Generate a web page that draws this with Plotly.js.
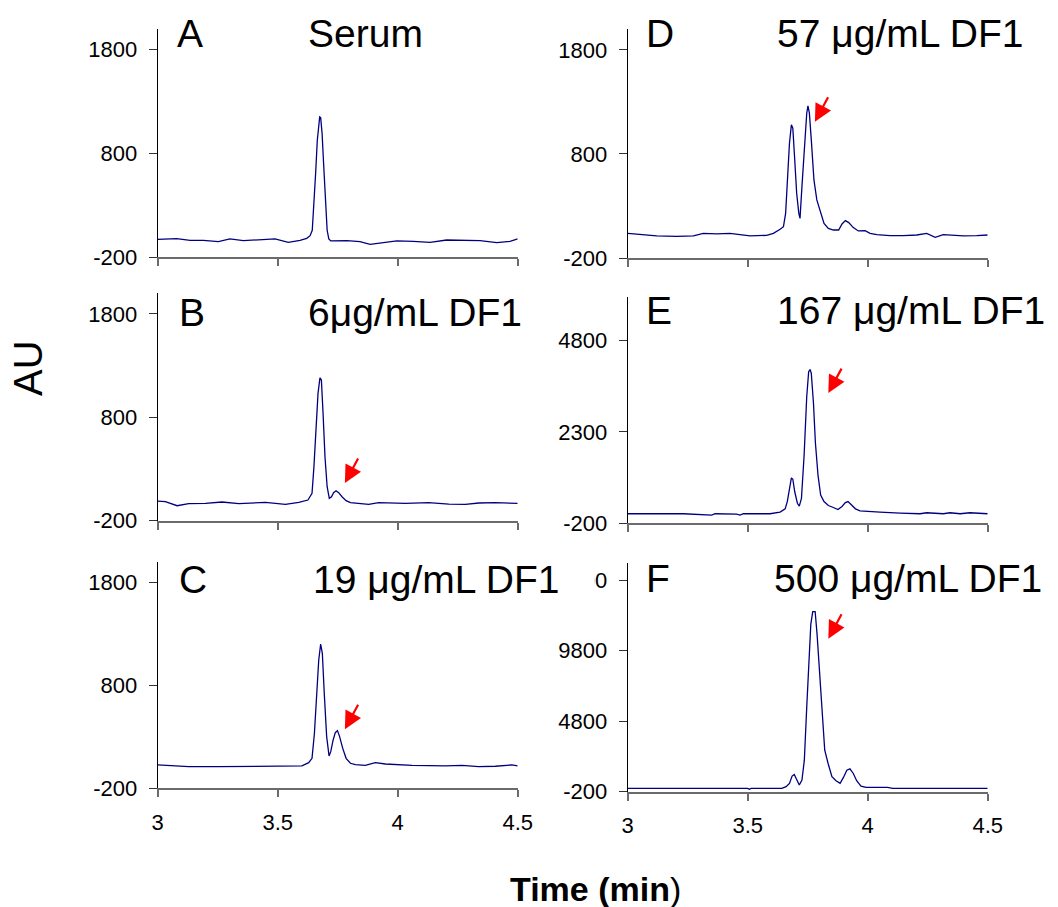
<!DOCTYPE html>
<html>
<head>
<meta charset="utf-8">
<script src="https://cdn.plot.ly/plotly-3.0.1.min.js"></script>
<style>
html,body{margin:0;padding:0;background:#fff;}
#chart{width:1058px;height:907px;}
</style>
</head>
<body>
<div id="chart"></div>
<script>
// ---------- DATA ----------
const xTickVals = [3, 3.5, 4, 4.5];
const xTickLabels = ['3', '3.5', '4', '4.5'];

const yTicksLow = [-200, 800, 1800];
const yTicksE = [-200, 2300, 4800];
const yTicksF = [-200, 4800, 9800, 14800];

const panelLetters = ['A', 'B', 'C', 'D', 'E', 'F'];
const panelTitles = ['Serum', '6μg/mL DF1', '19 μg/mL DF1', '57 μg/mL DF1', '167 μg/mL DF1', '500 μg/mL DF1'];

// Panel A: Serum
const timeA = [3.000,3.079,3.135,3.190,3.253,3.301,3.357,3.426,3.489,3.544,3.593,3.621,3.635,3.644,3.651,3.658,3.665,3.671,3.675,3.679,3.685,3.692,3.699,3.706,3.713,3.721,3.788,3.843,3.885,3.926,3.996,4.065,4.135,4.204,4.274,4.343,4.413,4.468,4.500];
const auA   = [-29,-23,-39,-39,-52,-26,-42,-36,-26,-58,-39,-20,6,58,283,605,927,1104,1152,1146,991,669,315,58,-26,-45,-42,-52,-78,-65,-45,-49,-58,-36,-39,-42,-62,-49,-26];

// Panel B: 6 ug/mL DF1
const timeB = [3.000,3.032,3.081,3.129,3.199,3.268,3.338,3.449,3.532,3.588,3.626,3.643,3.651,3.660,3.668,3.676,3.682,3.689,3.697,3.706,3.715,3.724,3.733,3.743,3.754,3.768,3.785,3.803,3.851,3.879,3.921,4.032,4.129,4.213,4.282,4.338,4.407,4.500];
const auB   = [-10,-16,-55,-35,-32,-19,-35,-23,-42,-23,0,65,323,710,1032,1181,1161,839,419,129,16,32,71,90,71,32,-6,-26,-32,-42,-26,-32,-26,-39,-42,-29,-26,-32];

// Panel C: 19 ug/mL DF1
const timeC = [3.000,3.074,3.129,3.254,3.365,3.449,3.504,3.601,3.629,3.643,3.653,3.662,3.671,3.679,3.686,3.694,3.704,3.714,3.721,3.731,3.740,3.749,3.758,3.771,3.785,3.803,3.824,3.865,3.907,3.949,4.004,4.060,4.129,4.199,4.268,4.338,4.407,4.476,4.500];
const auC   = [27,17,10,10,14,10,14,17,49,91,334,722,1046,1201,1111,722,302,114,156,269,340,360,302,188,91,43,30,23,49,36,27,23,20,17,23,10,14,27,17];

// Panel D: 57 ug/mL DF1
const timeD = [3.000,3.038,3.121,3.204,3.274,3.315,3.371,3.426,3.510,3.579,3.607,3.635,3.649,3.658,3.667,3.674,3.682,3.688,3.696,3.704,3.713,3.718,3.726,3.738,3.746,3.751,3.757,3.765,3.776,3.788,3.801,3.818,3.836,3.857,3.879,3.893,3.907,3.921,3.940,3.961,3.989,4.010,4.038,4.093,4.149,4.204,4.246,4.281,4.315,4.343,4.399,4.454,4.500];
const auD   = [37,28,12,8,12,37,31,37,12,18,37,76,101,229,614,903,1079,1047,742,422,229,181,486,935,1191,1262,1191,935,550,358,262,133,85,69,69,127,159,140,92,60,63,37,24,15,15,21,37,-1,24,18,12,15,21];

// Panel E: 167 ug/mL DF1
const timeE = [3.000,3.093,3.232,3.350,3.364,3.454,3.468,3.482,3.593,3.635,3.656,3.665,3.674,3.682,3.688,3.696,3.707,3.715,3.724,3.735,3.746,3.754,3.760,3.765,3.774,3.782,3.793,3.804,3.818,3.836,3.857,3.876,3.893,3.907,3.918,3.932,3.949,3.968,4.010,4.051,4.135,4.218,4.246,4.315,4.343,4.385,4.426,4.468,4.500];
const auE   = [61,61,61,25,61,52,25,61,61,106,196,394,753,1041,1005,663,349,268,483,1653,3271,3946,4009,3901,3091,2012,1113,573,394,286,232,178,259,367,394,304,196,142,115,106,79,61,88,61,88,61,88,79,61];

// Panel F: 500 ug/mL DF1
const timeF = [3.000,3.229,3.500,3.507,3.514,3.642,3.660,3.674,3.685,3.694,3.704,3.715,3.726,3.736,3.746,3.754,3.763,3.771,3.781,3.789,3.799,3.810,3.821,3.835,3.851,3.868,3.885,3.899,3.913,3.926,3.940,3.954,3.972,3.993,4.083,4.104,4.500];
const auF   = [35,35,35,-35,35,35,153,388,906,1024,624,271,624,2035,5800,9095,11683,12577,12577,10977,8153,5330,2741,1800,859,577,388,812,1330,1424,1094,577,200,106,106,35,35];

// Red arrows marking the DF1 peak (panels B..F)
const arrowPanels = ['B', 'C', 'D', 'E', 'F'];
const arrowTimes  = [3.78, 3.78, 3.78, 3.836, 3.836];
const arrowValues = [164, 373, 1108, 3362, 10650];

// ---------- LAYOUT ----------
const W = 1058, H = 907;
const px = v => v / W;
const py = v => 1 - v / H;

// pixel boxes [left, right, top, bottom]
const boxes = {
  A: [157.7, 517.7, 29, 257],
  B: [157.7, 517.7, 293.3, 520.7],
  C: [157.7, 517.7, 561.7, 788.3],
  D: [627.7, 987.7, 29, 258],
  E: [627.7, 987.7, 296.7, 523.3],
  F: [627.7, 987.7, 563.3, 791.7]
};
const yRanges = { A: [-200, 2000], B: [-200, 2000], C: [-200, 2000], D: [-200, 2000], E: [-200, 6000], F: [-200, 16000] };
const yTicks = { A: yTicksLow, B: yTicksLow, C: yTicksLow, D: yTicksLow, E: yTicksE, F: yTicksF };
const series = {
  A: [timeA, auA], B: [timeB, auB], C: [timeC, auC],
  D: [timeD, auD], E: [timeE, auE], F: [timeF, auF]
};

const FONT = 'Liberation Sans, Arial, Helvetica, sans-serif';
const TICKSIZE = 22;
const layout = {
  width: W, height: H,
  margin: { l: 0, r: 0, t: 0, b: 0 },
  paper_bgcolor: '#ffffff',
  plot_bgcolor: 'rgba(0,0,0,0)',
  showlegend: false,
  font: { family: FONT, color: '#000000' },
  annotations: []
};
const data = [];

panelLetters.forEach((p, i) => {
  const n = i + 1;
  const xk = n === 1 ? 'xaxis' : 'xaxis' + n;
  const yk = n === 1 ? 'yaxis' : 'yaxis' + n;
  const xr = n === 1 ? 'x' : 'x' + n;
  const yr = n === 1 ? 'y' : 'y' + n;
  const b = boxes[p];
  const bottomRow = (p === 'C' || p === 'F');

  layout[xk] = {
    domain: [px(b[0]), px(b[1])],
    anchor: yr,
    range: [3, 4.5],
    tickmode: 'array', tickvals: xTickVals, ticktext: xTickLabels,
    showticklabels: bottomRow,
    ticks: 'outside', ticklen: 7, tickwidth: 2, tickcolor: '#6b6b6b',
    showline: true, linecolor: '#6b6b6b', linewidth: 2,
    showgrid: false, zeroline: false,
    tickfont: { family: FONT, size: TICKSIZE, color: '#000' },
    ticklabelstandoff: 6,
    fixedrange: true
  };
  layout[yk] = {
    domain: [py(b[3]), py(b[2])],
    anchor: xr,
    range: yRanges[p],
    tickmode: 'array', tickvals: yTicks[p], ticktext: yTicks[p].map(String),
    ticks: 'outside', ticklen: 8, tickwidth: 1, tickcolor: '#333',
    showline: true, linecolor: '#000', linewidth: 1,
    showgrid: false, zeroline: false,
    tickfont: { family: FONT, size: TICKSIZE, color: '#000' },
    ticklabelstandoff: 7,
    fixedrange: true
  };

  data.push({
    type: 'scatter', mode: 'lines',
    x: series[p][0], y: series[p][1],
    xaxis: xr, yaxis: yr,
    line: { color: '#00007f', width: 1.3 },
    hoverinfo: 'skip'
  });
});

// Panel letters and titles (pixel positions of left edges / cap centers)
const letterPos = { A: [175, 33.5], B: [177, 313], C: [177, 579], D: [644, 33.5], E: [644, 310], F: [644, 578] };
const titlePos  = { A: [306, 33.5], B: [306, 313], C: [311, 579], D: [775, 33.5], E: [775, 310], F: [772, 578] };

panelLetters.forEach((p, i) => {
  layout.annotations.push({
    xref: 'paper', yref: 'paper',
    x: px(letterPos[p][0]), y: py(letterPos[p][1]),
    xanchor: 'left', yanchor: 'middle',
    text: p, showarrow: false,
    font: { family: FONT, size: 39, color: '#000' }
  });
  const t = {
    xref: 'paper', yref: 'paper',
    x: px(titlePos[p][0]), y: py(titlePos[p][1]),
    xanchor: 'left', yanchor: 'middle',
    text: panelTitles[i], showarrow: false,
    font: { family: FONT, size: 39, color: '#000' }
  };
  // the reference's C title sits on a white box that hides most of F's top tick label
  if (p === 'C') { t.bgcolor = '#ffffff'; t.width = 280; t.align = 'left'; }
  layout.annotations.push(t);
});

// Red arrows
arrowPanels.forEach((p, i) => {
  const n = panelLetters.indexOf(p) + 1;
  layout.annotations.push({
    xref: 'x' + (n === 1 ? '' : n), yref: 'y' + (n === 1 ? '' : n),
    x: arrowTimes[i], y: arrowValues[i],
    ax: 14, ay: -26,
    text: '', showarrow: true,
    arrowhead: 2, arrowsize: 1.6, arrowwidth: 2.2, arrowcolor: '#ff0000',
    standoff: 0, startstandoff: 0
  });
});

// Axis titles
layout.annotations.push({
  xref: 'paper', yref: 'paper',
  x: px(28), y: py(368), xanchor: 'center', yanchor: 'middle',
  text: 'AU', textangle: -90, showarrow: false,
  font: { family: FONT, size: 40, color: '#000' }
});
layout.annotations.push({
  xref: 'paper', yref: 'paper',
  x: px(595), y: py(889), xanchor: 'center', yanchor: 'middle',
  text: '<b>Time (min</b>)', showarrow: false,
  font: { family: FONT, size: 34, color: '#000' }
});

Plotly.newPlot('chart', data, layout, { staticPlot: true, displayModeBar: false });
</script>
</body>
</html>
